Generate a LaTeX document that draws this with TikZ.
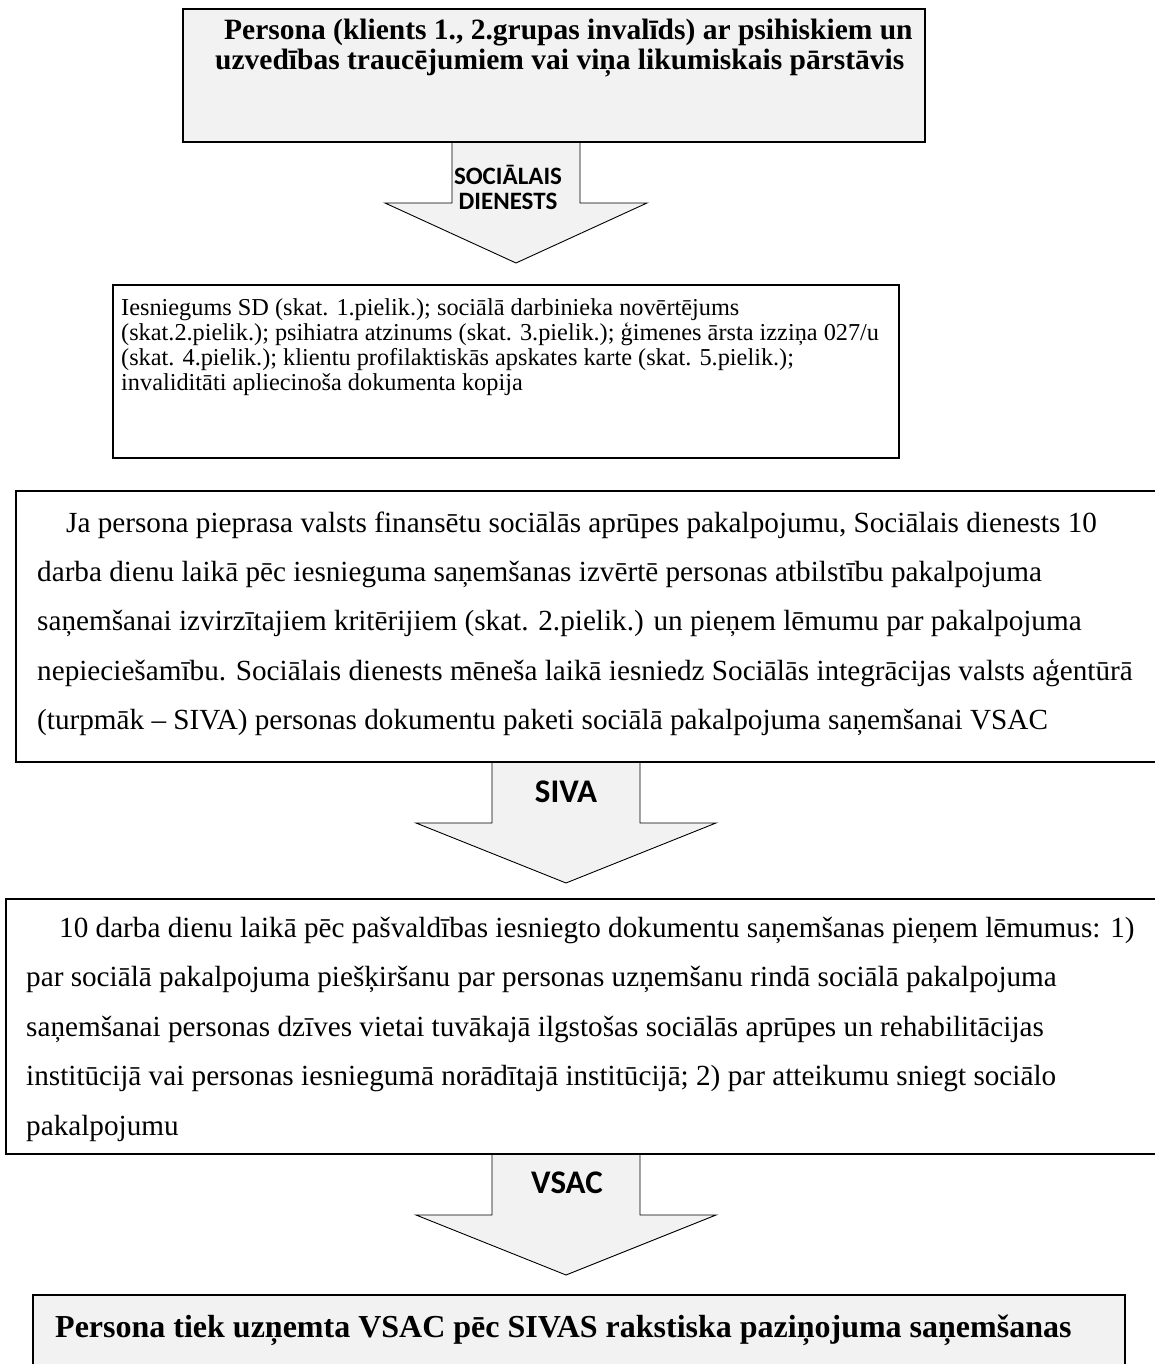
\documentclass[tikz,border=0pt]{standalone}
\usepackage{fontspec}
\setmainfont{Liberation Serif}
\newfontfamily\lblfont{Carlito}
\usepackage{xcolor}
\definecolor{boxc}{HTML}{F2F2F2}

\begin{document}
\begin{tikzpicture}[x=1pt,y=-1pt,
  frame/.style={draw=black, anchor=north west, inner sep=0pt, outer sep=0pt},
  txt/.style={anchor=north west, inner sep=0pt, align=left},
  blockarrow/.style={draw=black, fill=boxc, line width=0.9pt, line join=miter},
  lbl/.style={inner sep=0pt}]
  \useasboundingbox (0,0) rectangle (1155,1364);

  % ============================================================
  %                       PARAMETERS
  % ============================================================
  \def\shoulder{61}   % shaft length
  \def\tipLen{121}    % shaft + head

  % ============================================================
  %                       BLOCK ARROWS
  % ============================================================
  % x centre / top / shaft half width / head half width
  \foreach \ax/\ay/\sh/\hh in {516/142/64/131, 566/762/74/150, 566/1154/74/150} {
    \filldraw[blockarrow]
      ({\ax-\sh}, \ay) -- ({\ax-\sh}, {\ay+\shoulder})
      -- ({\ax-\hh}, {\ay+\shoulder}) -- (\ax, {\ay+\tipLen})
      -- ({\ax+\hh}, {\ay+\shoulder}) -- ({\ax+\sh}, {\ay+\shoulder})
      -- ({\ax+\sh}, \ay);
  }
  \node[lbl, align=center, anchor=north, font=\lblfont\bfseries\fontsize{25}{25}\selectfont]
    (sdlbl) at (508,164) {\rule{0pt}{20pt}SOCIĀLAIS\\DIENESTS};
  \node[lbl, anchor=base, font=\lblfont\bfseries\fontsize{33}{35}\selectfont]
    (sivalbl) at (566,802) {SIVA};
  \node[lbl, anchor=base, font=\lblfont\bfseries\fontsize{33}{35}\selectfont]
    (vsaclbl) at (567,1193) {VSAC};

  % ============================================================
  %                       BOXES
  % ============================================================
  \node[frame, fill=boxc, line width=2.5pt, minimum width=742pt, minimum height=133pt]
    (persona) at (183,9) {};
  \node[frame, fill=white, line width=1.6pt, minimum width=786pt, minimum height=173pt]
    (docs) at (113,285) {};
  \node[frame, fill=white, line width=2pt, minimum width=1146pt, minimum height=271pt]
    (sdbox) at (16,491) {};
  \node[frame, fill=white, line width=2pt, minimum width=1156pt, minimum height=255pt]
    (sivabox) at (6,899) {};
  \node[frame, fill=boxc, line width=2.5pt, minimum width=1092pt, minimum height=80pt]
    (result) at (33,1295) {};

  % ============================================================
  %                       TEXTS
  % ============================================================
  \node[txt, font=\bfseries\fontsize{29.5}{30}\selectfont] (personatxt) at (215,14)
    {\rule{0pt}{25pt}\hspace*{9pt}Persona (klients 1., 2.grupas invalīds) ar psihiskiem un\\
     uzvedības traucējumiem vai viņa likumiskais pārstāvis};

  \node[txt, font=\fontsize{24.3}{25}\selectfont] (docstxt) at (121,295)
    {\rule{0pt}{20pt}Iesniegums SD (skat. 1.pielik.); sociālā darbinieka novērtējums\\
     (skat.2.pielik.); psihiatra atzinums (skat. 3.pielik.); ģimenes ārsta izziņa 027/u\\
     (skat. 4.pielik.); klientu profilaktiskās apskates karte (skat. 5.pielik.);\\
     invaliditāti apliecinoša dokumenta kopija};

  \node[txt, font=\fontsize{29.2}{49.3}\selectfont] (sdtxt) at (37,508)
    {\rule{0pt}{24pt}\hspace*{29pt}Ja persona pieprasa valsts finansētu sociālās aprūpes pakalpojumu, Sociālais dienests 10\\
     darba dienu laikā pēc iesnieguma saņemšanas izvērtē personas atbilstību pakalpojuma\\
     saņemšanai izvirzītajiem kritērijiem (skat. 2.pielik.) un pieņem lēmumu par pakalpojuma\\
     nepiecieš­amību. Sociālais dienests mēneša laikā iesniedz Sociālās integrācijas valsts aģentūrā\\
     (turpmāk – SIVA) personas dokumentu paketi sociālā pakalpojuma saņemšanai VSAC};

  \node[txt, font=\fontsize{29.2}{49.5}\selectfont] (sivatxt) at (26,913)
    {\rule{0pt}{24pt}\hspace*{33pt}10 darba dienu laikā pēc pašvaldības iesniegto dokumentu saņemšanas pieņem lēmumus: 1)\\
     par sociālā pakalpojuma piešķiršanu par personas uzņemšanu rindā sociālā pakalpojuma\\
     saņemšanai personas dzīves vietai tuvākajā ilgstošas sociālās aprūpes un rehabilitācijas\\
     institūcijā vai personas iesniegumā norādītajā institūcijā; 2) par atteikumu sniegt sociālo\\
     pakalpojumu};

  \node[txt, font=\bfseries\fontsize{32}{34}\selectfont] (resulttxt) at (55,1310)
    {\rule{0pt}{27pt}Persona tiek uzņemta VSAC pēc SIVAS rakstiska paziņojuma saņemšanas};
\end{tikzpicture}
\end{document}
